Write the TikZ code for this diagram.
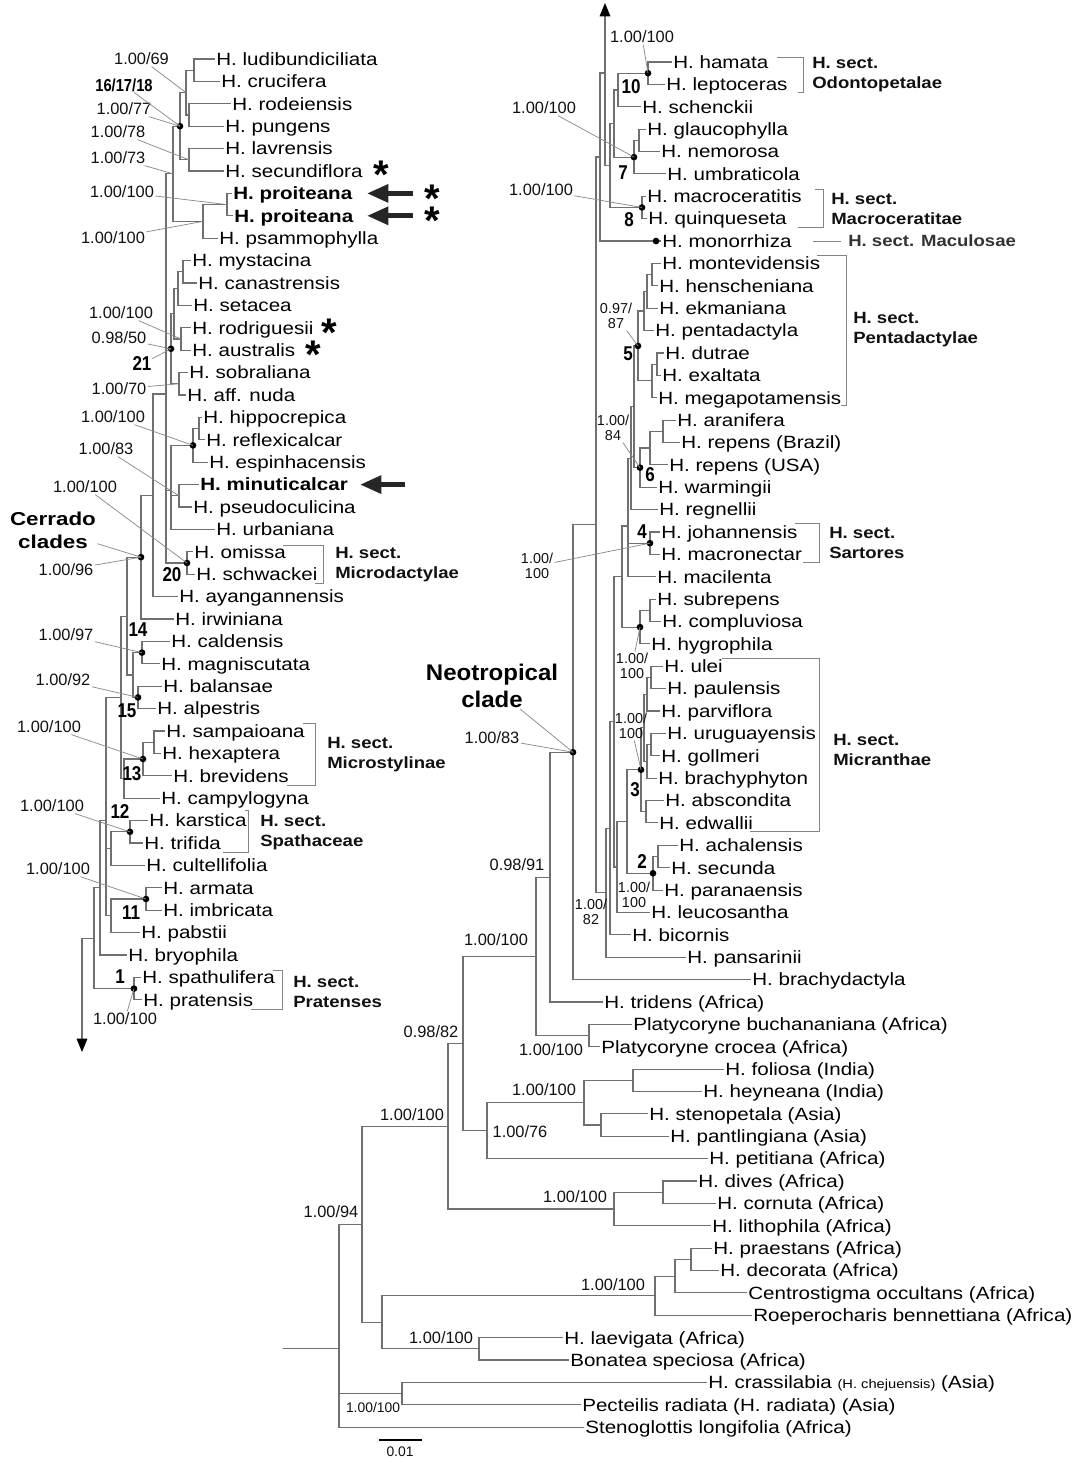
\documentclass[tikz,border=0pt]{standalone}
\usepackage{fontspec}
\setmainfont{Liberation Sans}
\newfontfamily\taxf[FakeStretch=1.16]{Liberation Sans}
\newfontfamily\secf[FakeStretch=1.14]{Liberation Sans}
\newfontfamily\numf[FakeStretch=0.85]{Liberation Sans}
\newfontfamily\cladef[FakeStretch=1.2]{Liberation Sans}
\newfontfamily\neof[FakeStretch=1.06]{Liberation Sans}
\usetikzlibrary{arrows.meta,calc}
\definecolor{brc}{HTML}{707070}
\definecolor{ldc}{HTML}{8A8A8A}
\definecolor{txc}{HTML}{111111}
\newcommand\mytip[4]{\node[tx] (#1) at (#2,#3) {#4};}
\newcommand\mynd[3]{\coordinate (#1) at (#2,#3);}
\newcommand\mybr[2]{\foreach \ch in {#2} {\draw[brn] (#1) |- (\ch);}}
\newcommand\mydot[1]{\fill[black] (#1) circle (2.5pt);}
\begin{document}
\begin{tikzpicture}[x=0.75pt,y=-0.75pt,
 tx/.style={anchor=west, inner xsep=0.8pt, inner ysep=0pt, text height=9.5pt, text depth=0pt, font=\taxf\fontsize{13.3}{15}\selectfont, text=black},
 brn/.style={draw=brc, line width=0.85pt},
 ld/.style={draw=ldc, line width=0.55pt},
 sup/.style={inner sep=1pt, font=\fontsize{12.3}{14}\selectfont, text=txc},
 sup2/.style={inner sep=1pt, align=center, font=\fontsize{10.8}{11.5}\selectfont, text=txc},
 num/.style={inner sep=0.5pt, font=\numf\bfseries\fontsize{15}{16}\selectfont, text=black},
 sec/.style={anchor=west, align=left, inner sep=0pt, font=\secf\bfseries\fontsize{12.2}{15}\selectfont, text=txc},
 brk/.style={draw=brc!85, line width=0.7pt},
 bigarrow/.style={draw=black!85, line width=3.7pt, -{Triangle[length=16pt,width=13pt]}},
 ast/.style={anchor=base, inner sep=0pt, font=\bfseries\fontsize{30}{30}\selectfont, text=black},
 uparrow/.style={brn, -{Triangle[length=10pt,width=8pt,color=black]}},
]
\fill[white] (0,0) rectangle (1075,1459);
\useasboundingbox (0,0) rectangle (1075,1459);

% ---------------- LEFT TREE TIPS ----------------
\mytip{t1}{215}{59.0}{H. ludibundiciliata}
\mytip{t2}{220}{81.4}{H. crucifera}
\mytip{t3}{231}{103.8}{H. rodeiensis}
\mytip{t4}{224}{126.2}{H. pungens}
\mytip{t5}{224}{148.6}{H. lavrensis}
\mytip{t6}{224}{171.0}{H. secundiflora}
\mytip{t7}{232}{193.4}{\bfseries H. proiteana}
\mytip{t8}{233}{215.8}{\bfseries H. proiteana}
\mytip{t9}{218}{238.2}{H. psammophylla}
\mytip{t10}{191}{260.6}{H. mystacina}
\mytip{t11}{197}{283.0}{H. canastrensis}
\mytip{t12}{192}{305.4}{H. setacea}
\mytip{t13}{191}{327.8}{H. rodriguesii}
\mytip{t14}{191}{350.2}{H. australis}
\mytip{t15}{188}{372.6}{H. sobraliana}
\mytip{t16}{186}{395.0}{H. aff. nuda}
\mytip{t17}{202}{417.4}{H. hippocrepica}
\mytip{t18}{205}{439.8}{H. reflexicalcar}
\mytip{t19}{208}{462.2}{H. espinhacensis}
\mytip{t20}{199}{484.6}{\bfseries H. minuticalcar}
\mytip{t21}{192}{507.0}{H. pseudoculicina}
\mytip{t22}{215}{529.4}{H. urbaniana}
\mytip{t23}{193}{551.8}{H. omissa}
\mytip{t24}{195}{574.2}{H. schwackei}
\mytip{t25}{178}{596.6}{H. ayangannensis}
\mytip{t26}{174}{619.0}{H. irwiniana}
\mytip{t27}{170}{641.4}{H. caldensis}
\mytip{t28}{160}{663.8}{H. magniscutata}
\mytip{t29}{162}{686.2}{H. balansae}
\mytip{t30}{156}{708.6}{H. alpestris}
\mytip{t31}{165}{731.0}{H. sampaioana}
\mytip{t32}{161}{753.4}{H. hexaptera}
\mytip{t33}{172}{775.8}{H. brevidens}
\mytip{t34}{160}{798.2}{H. campylogyna}
\mytip{t35}{148}{820.6}{H. karstica}
\mytip{t36}{143}{843.0}{H. trifida}
\mytip{t37}{145}{865.4}{H. cultellifolia}
\mytip{t38}{162}{887.8}{H. armata}
\mytip{t39}{162}{910.2}{H. imbricata}
\mytip{t40}{140}{932.6}{H. pabstii}
\mytip{t41}{127}{955.0}{H. bryophila}
\mytip{t42}{141}{977.4}{H. spathulifera}
\mytip{t43}{142}{999.8}{H. pratensis}

% ---------------- LEFT TREE NODES ----------------
\mynd{nA12}{194}{70.2}
\mynd{nA34}{189}{115.0}
\mynd{nA}{186}{92.6}
\mynd{nLS}{189}{159.8}
\mynd{n161718}{180}{126.2}
\mynd{nPP}{227}{204.6}
\mynd{nPs}{203}{221.4}
\mynd{nB}{173}{173.8}
\mynd{nMC}{183}{271.8}
\mynd{nSet}{178}{288.6}
\mynd{nRA}{181}{339.0}
\mynd{nE}{174}{313.8}
\mynd{nF}{179}{383.8}
\mynd{nD}{171}{348.8}
\mynd{nHR}{199}{428.6}
\mynd{nHE}{193}{445.4}
\mynd{nMP}{179}{495.8}
\mynd{nG}{171}{490.2}
\mynd{nOS}{187}{563.0}
\mynd{nC}{166}{393.95}
\mynd{n153}{153}{495.3}
\mynd{nCer}{141}{557.15}
\mynd{n14}{142}{652.6}
\mynd{n15}{138}{697.4}
\mynd{n1415}{133}{675.0}
\mynd{nI}{127}{616.1}
\mynd{nSH}{154}{742.2}
\mynd{n13}{143}{759.0}
\mynd{nK}{124}{778.6}
\mynd{nJ}{121}{697.35}
\mynd{n12}{130}{831.8}
\mynd{nL}{111}{848.6}
\mynd{n11}{146}{899.0}
\mynd{nM}{111}{915.8}
\mynd{nR}{106}{820.6}
\mynd{nQ}{100}{887.8}
\mynd{nSP}{134}{988.6}
\mynd{nP}{94}{938.2}
\coordinate (lcorner) at (82,938.2);
\coordinate (ldn) at (82,1052);

\mybr{nA12}{t1,t2}
\mybr{nA34}{t3,t4}
\mybr{nA}{nA12,nA34}
\mybr{nLS}{t5,t6}
\mybr{n161718}{nA,nLS}
\mybr{nPP}{t7,t8}
\mybr{nPs}{nPP,t9}
\mybr{nB}{n161718,nPs}
\mybr{nMC}{t10,t11}
\mybr{nSet}{nMC,t12}
\mybr{nRA}{t13,t14}
\mybr{nE}{nSet,nRA}
\mybr{nF}{t15,t16}
\mybr{nD}{nE,nF}
\mybr{nHR}{t17,t18}
\mybr{nHE}{nHR,t19}
\mybr{nMP}{t20,t21}
\mybr{nG}{nHE,nMP,t22}
\mybr{nOS}{t23,t24}
\mybr{nC}{nB,nD,nG,nOS}
\mybr{n153}{nC,t25}
\mybr{nCer}{n153,t26}
\mybr{n14}{t27,t28}
\mybr{n15}{t29,t30}
\mybr{n1415}{n14,n15}
\mybr{nI}{nCer,n1415}
\mybr{nSH}{t31,t32}
\mybr{n13}{nSH,t33}
\mybr{nK}{n13,t34}
\mybr{nJ}{nI,nK}
\mybr{n12}{t35,t36}
\mybr{nL}{n12,t37}
\mybr{n11}{t38,t39}
\mybr{nM}{n11,t40}
\mybr{nR}{nJ,nL,nM}
\mybr{nQ}{nR,t41}
\mybr{nSP}{t42,t43}
\mybr{nP}{nQ,nSP}
\draw[brn] (nP) -- (lcorner);
\draw[uparrow] (lcorner) -- (ldn);

\foreach \d in {n161718,nD,nHE,nOS,nCer,n14,n15,n13,n12,n11,nSP} {\mydot{\d}}

% left brackets & section labels
\draw[brk] (283,545) -- (323,545) -- (323,583) -- (315,583);
\draw[brk] (303,723) -- (315,723) -- (315,785) -- (287,785);
\draw[brk] (245,810) -- (248,810) -- (248,852) -- (223,852);
\draw[brk] (273,970) -- (282,970) -- (282,1009) -- (251,1009);
\node[sec] (sMicrod) at (335,565) {H. sect.\\Microdactylae};
\node[sec] (sMicros) at (327,755) {H. sect.\\Microstylinae};
\node[sec] (sSpath) at (260,832.5) {H. sect.\\Spathaceae};
\node[sec] (sPrat) at (293,992) {H. sect.\\Pratenses};

% arrows and asterisks
\coordinate (a1s) at (413,193.4); \coordinate (a1e) at (367,193.4);
\coordinate (a2s) at (413,215.8); \coordinate (a2e) at (367,215.8);
\coordinate (a3s) at (405,484.6); \coordinate (a3e) at (360,484.6);
\draw[bigarrow] (a1s) -- (a1e);
\draw[bigarrow] (a2s) -- (a2e);
\draw[bigarrow] (a3s) -- (a3e);
\node[ast] (as1) at (381,189) {*};
\node[ast] (as2) at (432,212) {*};
\node[ast] (as3) at (432,234) {*};
\node[ast] (as4) at (329,346) {*};
\node[ast] (as5) at (313,368) {*};

% left support labels
\node[sup] (l1) at (141.5,59) {1.00/69};
\node[num,font=\numf\bfseries\fontsize{13}{14}\selectfont] (l2) at (124,85) {16/17/18};
\node[sup] (l3) at (124,109) {1.00/77};
\node[sup] (l4) at (118,132) {1.00/78};
\node[sup] (l5) at (118,158) {1.00/73};
\node[sup] (l6) at (122,192) {1.00/100};
\node[sup] (l7) at (113,238) {1.00/100};
\node[sup] (l8) at (121,313) {1.00/100};
\node[sup] (l9) at (119,338) {0.98/50};
\node[num] (l10) at (142,364) {21};
\node[sup] (l11) at (119,389) {1.00/70};
\node[sup] (l12) at (113,417) {1.00/100};
\node[sup] (l13) at (106,449) {1.00/83};
\node[sup] (l14) at (85,487) {1.00/100};
\node[sup] (l15) at (66,570) {1.00/96};
\node[num] (l16) at (138,630) {14};
\node[sup] (l17) at (66,635) {1.00/97};
\node[sup] (l18) at (63,680) {1.00/92};
\node[num] (l19) at (127,711) {15};
\node[sup] (l20) at (49,727) {1.00/100};
\node[num] (l21) at (132,774) {13};
\node[sup] (l22) at (52,806) {1.00/100};
\node[num] (l23) at (120,812) {12};
\node[sup] (l24) at (58,869) {1.00/100};
\node[num] (l25) at (131,913) {11};
\node[num] (l26) at (120,977) {1};
\node[sup] (l27) at (125,1019) {1.00/100};
\node[num] (l28) at (172,575) {20};
\node[align=center, inner sep=1pt, font=\cladef\bfseries\fontsize{14}{17.3}\selectfont] (cer) at (53,530) {Cerrado\\clades};

\draw[ld] (l1) -- (nA);
\draw[ld] (l2) -- (n161718);
\draw[ld] (l3) -- (n161718);
\draw[ld] (l4) -- (nLS);
\draw[ld] (l5) -- (nB);
\draw[ld] (l6) -- (nPP);
\draw[ld] (l7) -- (nPs);
\draw[ld] (l8) -- (nRA);
\draw[ld] (l9) -- (nD);
\draw[ld] (l10) -- (nD);
\draw[ld] (l11) -- (nF);
\draw[ld] (l12) -- (nHE);
\draw[ld] (l13) -- (nMP);
\draw[ld] (l14) -- (nOS);
\draw[ld] (cer) -- (nCer);
\draw[ld] (l15) -- (nCer);
\draw[ld] (l17) -- (n14);
\draw[ld] (l18) -- (n15);
\draw[ld] (l20) -- (n13);
\draw[ld] (l22) -- (n12);
\draw[ld] (l24) -- (n11);
\draw[ld] (l27) -- (nSP);

% ---------------- RIGHT TREE TIPS ----------------
\mytip{s1}{672}{62.00}{H. hamata}
\mytip{s2}{665}{84.38}{H. leptoceras}
\mytip{s3}{641}{106.76}{H. schenckii}
\mytip{s4}{646}{129.14}{H. glaucophylla}
\mytip{s5}{660}{151.52}{H. nemorosa}
\mytip{s6}{666}{173.90}{H. umbraticola}
\mytip{s7}{646}{196.28}{H. macroceratitis}
\mytip{s8}{647}{218.66}{H. quinqueseta}
\mytip{s9}{661}{241.04}{H. monorrhiza}
\mytip{s10}{661}{263.42}{H. montevidensis}
\mytip{s11}{658}{285.80}{H. henscheniana}
\mytip{s12}{658}{308.18}{H. ekmaniana}
\mytip{s13}{654}{330.56}{H. pentadactyla}
\mytip{s14}{664}{352.94}{H. dutrae}
\mytip{s15}{661}{375.32}{H. exaltata}
\mytip{s16}{657}{397.70}{H. megapotamensis}
\mytip{s17}{676}{420.08}{H. aranifera}
\mytip{s18}{680}{442.46}{H. repens (Brazil)}
\mytip{s19}{668}{464.84}{H. repens (USA)}
\mytip{s20}{657}{487.22}{H. warmingii}
\mytip{s21}{658}{509.60}{H. regnellii}
\mytip{s22}{660}{531.98}{H. johannensis}
\mytip{s23}{660}{554.36}{H. macronectar}
\mytip{s24}{656}{576.74}{H. macilenta}
\mytip{s25}{656}{599.12}{H. subrepens}
\mytip{s26}{661}{621.50}{H. compluviosa}
\mytip{s27}{650}{643.88}{H. hygrophila}
\mytip{s28}{663}{666.26}{H. ulei}
\mytip{s29}{666}{688.64}{H. paulensis}
\mytip{s30}{660}{711.02}{H. parviflora}
\mytip{s31}{666}{733.40}{H. uruguayensis}
\mytip{s32}{660}{755.78}{H. gollmeri}
\mytip{s33}{657}{778.16}{H. brachyphyton}
\mytip{s34}{664}{800.54}{H. abscondita}
\mytip{s35}{658}{822.92}{H. edwallii}
\mytip{s36}{678}{845.30}{H. achalensis}
\mytip{s37}{670}{867.68}{H. secunda}
\mytip{s38}{663}{890.06}{H. paranaensis}
\mytip{s39}{650}{912.44}{H. leucosantha}
\mytip{s40}{631}{934.82}{H. bicornis}
\mytip{s41}{686}{957.20}{H. pansarinii}
\mytip{s42}{751}{979.58}{H. brachydactyla}
\mytip{s43}{603}{1001.96}{H. tridens (Africa)}
\mytip{s44}{632}{1024.34}{Platycoryne buchananiana (Africa)}
\mytip{s45}{600}{1046.72}{Platycoryne crocea (Africa)}
\mytip{s46}{724}{1069.10}{H. foliosa (India)}
\mytip{s47}{702}{1091.48}{H. heyneana (India)}
\mytip{s48}{648}{1113.86}{H. stenopetala (Asia)}
\mytip{s49}{669}{1136.24}{H. pantlingiana (Asia)}
\mytip{s50}{708}{1158.62}{H. petitiana (Africa)}
\mytip{s51}{697}{1181.00}{H. dives (Africa)}
\mytip{s52}{716}{1203.38}{H. cornuta (Africa)}
\mytip{s53}{711}{1225.76}{H. lithophila (Africa)}
\mytip{s54}{712}{1248.14}{H. praestans (Africa)}
\mytip{s55}{719}{1270.52}{H. decorata (Africa)}
\mytip{s56}{747}{1292.90}{Centrostigma occultans (Africa)}
\mytip{s57}{752}{1315.28}{Roeperocharis bennettiana (Africa)}
\mytip{s58}{563}{1337.66}{H. laevigata (Africa)}
\mytip{s59}{569}{1360.04}{Bonatea speciosa (Africa)}
\mytip{s60}{707}{1382.42}{H. crassilabia {\fontsize{9.5}{10}\selectfont (H. chejuensis)} (Asia)}
\mytip{s61}{581}{1404.80}{Pecteilis radiata (H. radiata) (Asia)}
\mytip{s62}{584}{1427.18}{Stenoglottis longifolia (Africa)}

% ---------------- RIGHT TREE NODES ----------------
\mynd{r10}{648}{73.19}
\mynd{r10s}{618}{89.98}
\mynd{rGN}{639}{140.33}
\mynd{r7}{634}{157.12}
\mynd{rU}{614}{123.55}
\mynd{r8}{642}{207.47}
\mynd{rV}{610}{165.51}
\mynd{rW}{605}{73.0}
\mynd{rT}{600}{157.02}
\mynd{rMH}{652}{274.61}
\mynd{rEk}{647}{291.4}
\mynd{rPe}{644}{310.98}
\mynd{rDE}{657}{364.13}
\mynd{rMg}{652}{380.92}
\mynd{r5}{638}{345.95}
\mynd{rAR}{663}{431.27}
\mynd{rRU}{650}{448.06}
\mynd{r6}{640}{467.64}
\mynd{r56}{634}{406.8}
\mynd{r56r}{631}{458.2}
\mynd{r4}{650}{543.17}
\mynd{rY}{628}{526.04}
\mynd{rSC}{650}{610.31}
\mynd{rSH}{640}{627.1}
\mynd{rZ}{622}{576.57}
\mynd{rUP}{651}{677.45}
\mynd{rPv}{647}{694.24}
\mynd{rUG}{651}{744.59}
\mynd{rBr}{647}{761.38}
\mynd{rP5}{644}{727.81}
\mynd{rAE}{646}{811.73}
\mynd{r3}{641}{769.77}
\mynd{rAS}{658}{856.49}
\mynd{r2}{653}{873.28}
\mynd{r32}{627}{821.53}
\mynd{rBB}{617}{866.99}
\mynd{rCC}{614}{721.78}
\mynd{rDD}{610}{828.3}
\mynd{rEE}{606}{892.75}
\mynd{rFF}{596}{524.89}
\mynd{rNeo}{573}{752.24}
\mynd{rGG}{550}{877.1}
\mynd{rPl}{589}{1035.53}
\mynd{rHH}{536}{956.32}
\mynd{rIn}{633}{1080.29}
\mynd{rAs}{601}{1125.05}
\mynd{rMM}{584}{1102.67}
\mynd{rJJ}{487}{1130.65}
\mynd{rII}{463}{1043.49}
\mynd{rDC}{663}{1192.19}
\mynd{rLL}{614}{1208.98}
\mynd{rKK}{448}{1126.24}
\mynd{rTT}{691}{1259.33}
\mynd{rSS}{675}{1276.12}
\mynd{rQQ}{655}{1295.7}
\mynd{rRR}{479}{1348.85}
\mynd{rPP}{382}{1322.28}
\mynd{rNN}{362}{1224.26}
\mynd{rUU}{402}{1393.61}
\mynd{rRT}{339}{1348.35}
\coordinate (stub) at (283,1348.35);
\coordinate (rup) at (605,3);
\coordinate (monodot) at (656,241.04);

\mybr{r10}{s1,s2}
\mybr{r10s}{r10,s3}
\mybr{rGN}{s4,s5}
\mybr{r7}{rGN,s6}
\mybr{rU}{r10s,r7}
\mybr{r8}{s7,s8}
\mybr{rV}{rU,r8}
\mybr{rW}{rV}
\draw[uparrow] (rW) -- (rup);
\mybr{rT}{rW,s9}
\mybr{rMH}{s10,s11}
\mybr{rEk}{rMH,s12}
\mybr{rPe}{rEk,s13}
\mybr{rDE}{s14,s15}
\mybr{rMg}{rDE,s16}
\mybr{r5}{rPe,rMg}
\mybr{rAR}{s17,s18}
\mybr{rRU}{rAR,s19}
\mybr{r6}{rRU,s20}
\mybr{r56}{r5,r6}
\mybr{r56r}{r56,s21}
\mybr{r4}{s22,s23}
\mybr{rY}{r56r,r4,s24}
\mybr{rSC}{s25,s26}
\mybr{rSH}{rSC,s27}
\mybr{rZ}{rY,rSH}
\mybr{rUP}{s28,s29}
\mybr{rPv}{rUP,s30}
\mybr{rUG}{s31,s32}
\mybr{rBr}{rUG,s33}
\mybr{rP5}{rPv,rBr}
\mybr{rAE}{s34,s35}
\mybr{r3}{rP5,rAE}
\mybr{rAS}{s36,s37}
\mybr{r2}{rAS,s38}
\mybr{r32}{r3,r2}
\mybr{rBB}{r32,s39}
\mybr{rCC}{rZ,rBB}
\mybr{rDD}{rCC,s40}
\mybr{rEE}{rDD,s41}
\mybr{rFF}{rT,rEE}
\mybr{rNeo}{rFF,s42}
\mybr{rGG}{rNeo,s43}
\mybr{rPl}{s44,s45}
\mybr{rHH}{rGG,rPl}
\mybr{rIn}{s46,s47}
\mybr{rAs}{s48,s49}
\mybr{rMM}{rIn,rAs}
\mybr{rJJ}{rMM,s50}
\mybr{rII}{rHH,rJJ}
\mybr{rDC}{s51,s52}
\mybr{rLL}{rDC,s53}
\mybr{rKK}{rII,rLL}
\mybr{rTT}{s54,s55}
\mybr{rSS}{rTT,s56}
\mybr{rQQ}{rSS,s57}
\mybr{rRR}{s58,s59}
\mybr{rPP}{rQQ,rRR}
\mybr{rNN}{rKK,rPP}
\mybr{rUU}{s60,s61}
\mybr{rRT}{rNN,rUU,s62}
\draw[brn] (stub) -- (rRT);

\foreach \d in {r10,r7,r8,r5,r6,r4,rSH,r3,r2,rNeo,monodot} {\mydot{\d}}

% right brackets & section labels
\draw[brk] (777,57) -- (803,57) -- (803,92) -- (798,92);
\draw[brk] (815,189) -- (823,189) -- (823,227) -- (798,227);
\draw[brk] (817,255) -- (846,255) -- (846,405) -- (841,405);
\draw[brk] (795,523) -- (819,523) -- (819,562) -- (803,562);
\draw[brk] (722,658) -- (819,658) -- (819,831) -- (750,831);
\node[sec] (sOdon) at (812,75) {H. sect.\\Odontopetalae};
\node[sec] (sMacro) at (831,209) {H. sect.\\Macroceratitae};
\node[sec,text=black!80] (sMacu) at (848,241.04) {H. sect. Maculosae};
\draw[brk] ($(sMacu.west)+(-35,0)$) -- ($(sMacu.west)+(-7,0)$);
\node[sec] (sPent) at (853,330) {H. sect.\\Pentadactylae};
\node[sec] (sSart) at (829,543) {H. sect.\\Sartores};
\node[sec] (sMicra) at (833,750) {H. sect.\\Micranthae};

% right support labels
\node[sup] (q1) at (642,37) {1.00/100};
\node[num] (q2) at (631,87) {10};
\node[sup] (q3) at (544,108) {1.00/100};
\node[num] (q4) at (623,173) {7};
\node[sup] (q5) at (541,190) {1.00/100};
\node[num] (q6) at (629,220) {8};
\node[sup2] (q7) at (616,316) {0.97/\\87};
\node[num] (q8) at (628,354) {5};
\node[sup2] (q9) at (613,428) {1.00/\\84};
\node[num] (q10) at (650,475) {6};
\node[num] (q11) at (642,532) {4};
\node[sup2] (q12) at (537,566) {1.00/\\100};
\node[sup2] (q13) at (632,666) {1.00/\\100};
\node[sup2] (q14) at (631,726) {1.00/\\100};
\node[num] (q15) at (635,790) {3};
\node[num] (q16) at (642,862) {2};
\node[sup2] (q17) at (634,895) {1.00/\\100};
\node[sup2] (q18) at (591,912) {1.00/\\82};
\node[sup] (q19) at (517,865) {0.98/91};
\node[sup] (q20) at (492,738) {1.00/83};
\node[sup] (q21) at (496,940) {1.00/100};
\node[sup] (q22) at (431,1032) {0.98/82};
\node[sup] (q23) at (551,1050) {1.00/100};
\node[sup] (q24) at (544,1090) {1.00/100};
\node[sup] (q25) at (520,1132) {1.00/76};
\node[sup] (q26) at (412,1115) {1.00/100};
\node[sup] (q27) at (575,1197) {1.00/100};
\node[sup] (q28) at (331,1212) {1.00/94};
\node[sup] (q29) at (613,1285) {1.00/100};
\node[sup] (q30) at (441,1338) {1.00/100};
\node[sup,font=\fontsize{10.4}{11}\selectfont] (q31) at (373,1408) {1.00/100};
\node[align=center, inner sep=1pt, font=\neof\bfseries\fontsize{17}{20}\selectfont] (neo) at (492,686) {Neotropical\\clade};

\draw[ld] (q1) -- (r10);
\draw[ld] (q3) -- (r7);
\draw[ld] (q5) -- (r8);
\draw[ld] (q7) -- (r5);
\draw[ld] (q9) -- (r6);
\draw[ld] (q12) -- (r4);
\draw[ld] (q13) -- (rSH);
\draw[ld] (q14) -- (r3);
\draw[ld] (q20) -- (rNeo);
\draw[ld] (neo) -- (rNeo);

% scale bar
\coordinate (sb1) at (379,1440); \coordinate (sb2) at (422,1440);
\draw[line width=2.2pt] (sb1) -- (sb2);
\node[sup,font=\fontsize{10.4}{11}\selectfont] (scl) at (400,1452) {0.01};
\end{tikzpicture}
\end{document}
